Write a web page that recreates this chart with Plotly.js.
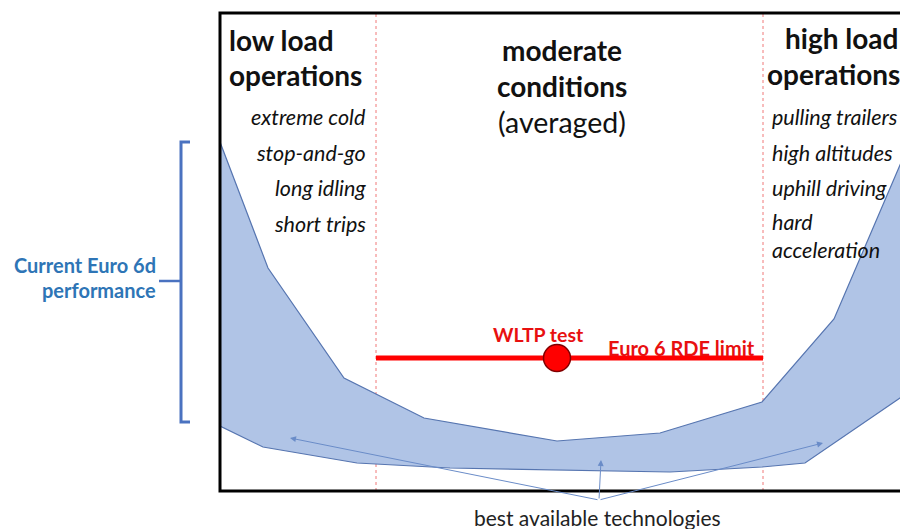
<!DOCTYPE html>
<html>
<head>
<meta charset="utf-8">
<script src="https://cdn.plot.ly/plotly-3.0.1.min.js"></script>
<style>
html,body{margin:0;padding:0;overflow:hidden;background:#fff;width:900px;height:529px;}
#chart{width:920px;height:529px;}
</style>
</head>
<body>
<div id="chart"></div>
<script>
// Driving severity (x) vs NOx emissions (y), arbitrary units
var upperX = [0, 48, 124, 204, 337, 440, 542, 614, 680, 690];
var upperY = [349, 223, 113, 73, 50, 58, 89, 172, 326, 349];
var lowerX = [0, 43, 137, 230, 337, 450, 542, 585, 680, 690];
var lowerY = [65, 44, 28, 23, 21, 19, 24, 28, 93, 100];
var limitX = [156, 543];
var limitY = [133, 133];
var wltpX = [337];
var wltpY = [133];
var zoneBounds = [156, 543];
var arrowTail = [379, -9];
var arrowHeadsX = [70, 381, 603];
var arrowHeadsY = [53, 31, 48];

var lowTitle = ["low load", "operations"];
var lowItems = ["extreme cold", "stop-and-go", "long idling", "short trips"];
var midTitle = ["moderate", "conditions"];
var midSub = "(averaged)";
var highTitle = ["high load", "operations"];
var highItems = ["pulling trailers", "high altitudes", "uphill driving", "hard", "acceleration"];

var W = 920, H = 529, ML = 220, MR = 10, MT = 13, MB = 38;
var PW = W - ML - MR, PH = H - MT - MB;
function xp(px){ return (px - ML) / PW; }
function yp(py){ return (H - MB - py) / PH; }

var FONT = "Lato, 'Open Sans', sans-serif";

var bandX = upperX.concat(lowerX.slice().reverse());
var bandY = upperY.concat(lowerY.slice().reverse());

var traces = [
  {x: bandX, y: bandY, mode: 'lines', fill: 'toself', fillcolor: '#b0c4e6',
   line: {color: '#5675b0', width: 1.2}, hoverinfo: 'skip', showlegend: false},
  {x: limitX, y: limitY, mode: 'lines', line: {color: '#ff0000', width: 5},
   hoverinfo: 'skip', showlegend: false},
  {x: wltpX, y: wltpY, mode: 'markers',
   marker: {size: 27, color: '#ff0000', line: {color: '#800000', width: 1.5}},
   hoverinfo: 'skip', showlegend: false, cliponaxis: false}
];

var shapes = [];
zoneBounds.forEach(function(b){
  shapes.push({type: 'line', xref: 'x', yref: 'paper', x0: b, x1: b, y0: 0, y1: 1,
    line: {color: '#f07878', width: 1, dash: 'dot'}, layer: 'below'});
});
shapes.push({type: 'rect', xref: 'paper', yref: 'paper', x0: 0, x1: 1, y0: 0, y1: 1,
  line: {color: '#000', width: 3}, layer: 'above'});
// bracket
var bc = '#4a72c0';
shapes.push({type: 'path', xref: 'paper', yref: 'paper',
  path: 'M ' + xp(190) + ' ' + yp(142) + ' L ' + xp(181) + ' ' + yp(142) +
        ' L ' + xp(181) + ' ' + yp(422) + ' L ' + xp(190) + ' ' + yp(422),
  line: {color: bc, width: 3}});
shapes.push({type: 'line', xref: 'paper', yref: 'paper', x0: xp(159), x1: xp(181),
  y0: yp(281), y1: yp(281), line: {color: bc, width: 2.5}});

var ann = [];
function txt(t, px, py, anchor, size, bold, italic, color){
  ann.push({text: bold ? '<b>' + t + '</b>' : (italic ? '<i>' + t + '</i>' : t),
    xref: 'paper', yref: 'paper', x: xp(px), y: yp(py), xanchor: anchor, yanchor: 'middle',
    showarrow: false, font: {family: FONT, size: size, color: color || '#111'}});
}
txt(lowTitle[0], 227, 40, 'left', 28, true);
txt(lowTitle[1], 227, 75, 'left', 28, true);
var lowY = [117, 153, 188, 224];
lowItems.forEach(function(t, i){ txt(t, 368, lowY[i], 'right', 21.5, false, true); });
txt(midTitle[0], 562, 50, 'center', 28, true);
txt(midTitle[1], 562, 86, 'center', 28, true);
txt(midSub, 562, 122, 'center', 28.5, false, false);
txt(highTitle[0], 783, 38, 'left', 28, true);
txt(highTitle[1], 765, 74, 'left', 28, true);
var highY = [117, 153, 188, 222, 250];
highItems.forEach(function(t, i){ txt(t, 770, highY[i], 'left', 21.5, false, true); });
txt('WLTP test', 538, 334, 'center', 19.5, true, false, '#e81010');
txt('Euro 6 RDE limit', 757, 348, 'right', 20, true, false, '#e81010');
txt('Current Euro 6d', 158, 265, 'right', 20, true, false, '#2e75b6');
txt('performance', 158, 290, 'right', 20, true, false, '#2e75b6');
txt('best available technologies', 597, 517, 'center', 21, false, false, '#222');

arrowHeadsX.forEach(function(hx, i){
  ann.push({x: hx, y: arrowHeadsY[i], xref: 'x', yref: 'y', ax: arrowTail[0], ay: arrowTail[1],
    axref: 'x', ayref: 'y', text: '', showarrow: true, arrowhead: 2, arrowsize: 1.2,
    arrowwidth: 1, arrowcolor: '#6a8cc8', standoff: 0});
});

var layout = {
  width: W, height: H,
  margin: {l: ML, r: MR, t: MT, b: MB, pad: 0},
  paper_bgcolor: '#fff', plot_bgcolor: '#fff',
  xaxis: {range: [0, PW], visible: false, fixedrange: true},
  yaxis: {range: [0, PH], visible: false, fixedrange: true},
  shapes: shapes, annotations: ann, showlegend: false
};
Plotly.newPlot('chart', traces, layout, {staticPlot: true});
</script>
</body>
</html>
